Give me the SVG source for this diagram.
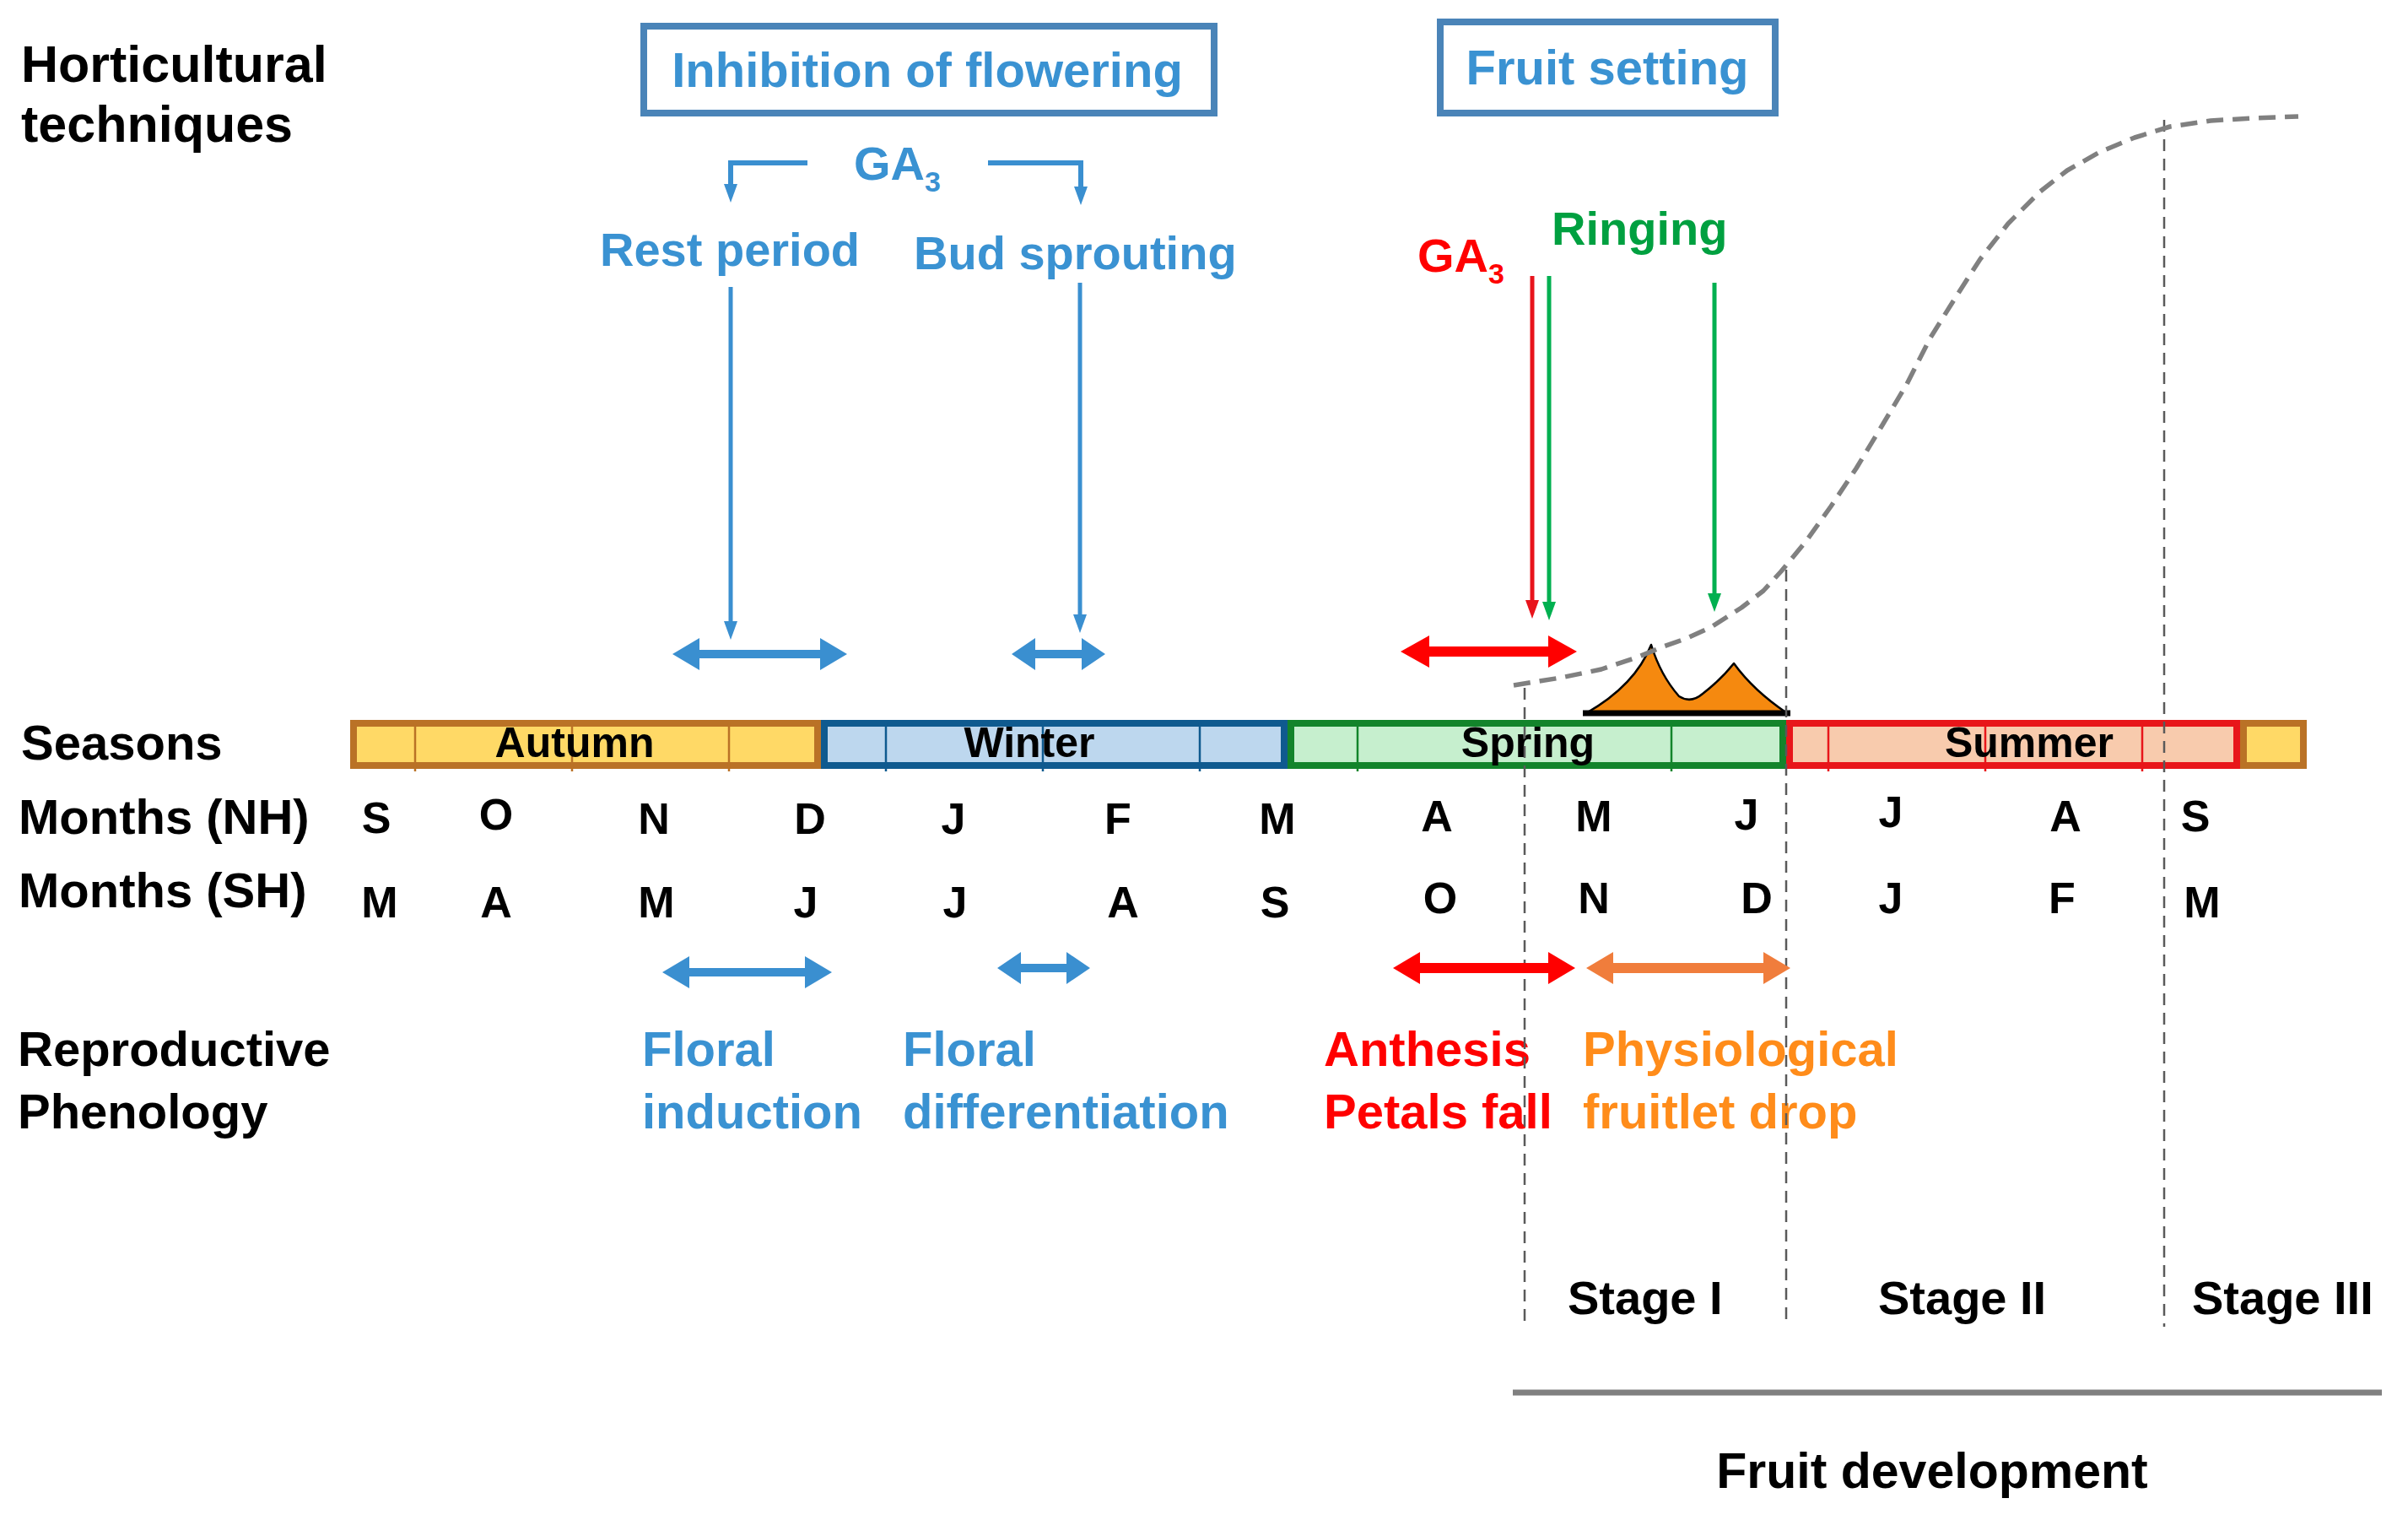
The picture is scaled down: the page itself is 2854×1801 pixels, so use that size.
<svg xmlns="http://www.w3.org/2000/svg" width="2854" height="1801" viewBox="0 0 2854 1801">
<style>
text{font-family:"Liberation Sans",Arial,sans-serif;font-weight:bold}
.lbl{font-size:58px;fill:#000}
.blue{fill:#3A92D2}
.red{fill:#FF0000}
.green{fill:#00A040}
.orange{fill:#FF8C1A}
.mo{font-size:52px;fill:#000;text-anchor:middle}
.season{font-size:50px;fill:#000;text-anchor:middle}
.stage{font-size:56px;fill:#000}
.vdash{stroke:#5A5A5A;stroke-width:2.5;stroke-dasharray:14 9;fill:none}
.tick{stroke-width:2.5}
</style>
<defs>
<marker id="hb" viewBox="0 0 22 16" markerWidth="22" markerHeight="16" refX="4" refY="8" orient="auto" markerUnits="userSpaceOnUse"><path d="M0,0 L22,8 L0,16 Z" fill="#3A8FD0"/></marker>
<marker id="hr" viewBox="0 0 22 16" markerWidth="22" markerHeight="16" refX="4" refY="8" orient="auto" markerUnits="userSpaceOnUse"><path d="M0,0 L22,8 L0,16 Z" fill="#E8141C"/></marker>
<marker id="hg" viewBox="0 0 22 16" markerWidth="22" markerHeight="16" refX="4" refY="8" orient="auto" markerUnits="userSpaceOnUse"><path d="M0,0 L22,8 L0,16 Z" fill="#00B050"/></marker>
</defs>
<rect width="2854" height="1801" fill="#fff"/>

<g id="row-labels">
<text class="lbl" x="25" y="97" style="font-size:61px">Horticultural</text>
<text class="lbl" x="25" y="168" style="font-size:61px">techniques</text>
<text class="lbl" x="25" y="900">Seasons</text>
<text class="lbl" x="22" y="988">Months (NH)</text>
<text class="lbl" x="22" y="1075">Months (SH)</text>
<text class="lbl" x="21" y="1263">Reproductive</text>
<text class="lbl" x="21" y="1337">Phenology</text>
</g>

<g id="box-inhibition">
<rect x="763" y="31" width="676" height="103" fill="#fff" stroke="#4A84B8" stroke-width="8"/>
<text class="blue" x="1099" y="103" font-size="58" text-anchor="middle">Inhibition of flowering</text>
</g>
<g id="box-fruit-setting">
<rect x="1707" y="26" width="397" height="108" fill="#fff" stroke="#4A84B8" stroke-width="8"/>
<text class="blue" x="1905" y="100" font-size="58" text-anchor="middle">Fruit setting</text>
</g>

<g id="ga3-blue"><text class="blue" x="1012" y="213" font-size="56">GA<tspan font-size="34" dy="14">3</tspan></text></g>
<g id="rest-period"><text class="blue" x="711" y="315" font-size="56">Rest period</text></g>
<g id="bud-sprouting"><text class="blue" x="1083" y="319" font-size="56">Bud sprouting</text></g>
<g id="ga3-red"><text class="red" x="1680" y="322" font-size="56">GA<tspan font-size="34" dy="14">3</tspan></text></g>
<g id="ringing"><text class="green" x="1839" y="290" font-size="56">Ringing</text></g>

<g id="season-band">
<rect x="419" y="857" width="550" height="50" fill="#FFD966" stroke="#BA7226" stroke-width="8"/>
<rect x="977" y="857" width="545" height="50" fill="#BDD7EE" stroke="#0F5A8F" stroke-width="8"/>
<rect x="1530" y="857" width="583" height="50" fill="#C6EFCE" stroke="#13842B" stroke-width="8"/>
<rect x="2121" y="857" width="530" height="50" fill="#F8CBAD" stroke="#E8161A" stroke-width="8"/>
<rect x="2659" y="857" width="71" height="50" fill="#FFD966" stroke="#BA7226" stroke-width="8"/>
<g class="tick">
<line x1="492" y1="857" x2="492" y2="914" stroke="#BA7226"/>
<line x1="678" y1="857" x2="678" y2="914" stroke="#BA7226"/>
<line x1="864" y1="857" x2="864" y2="914" stroke="#BA7226"/>
<line x1="1050" y1="857" x2="1050" y2="914" stroke="#0F5A8F"/>
<line x1="1236" y1="857" x2="1236" y2="914" stroke="#0F5A8F"/>
<line x1="1422" y1="857" x2="1422" y2="914" stroke="#0F5A8F"/>
<line x1="1609" y1="857" x2="1609" y2="914" stroke="#13842B"/>
<line x1="1981" y1="857" x2="1981" y2="914" stroke="#13842B"/>
<line x1="2167" y1="857" x2="2167" y2="914" stroke="#E8161A"/>
<line x1="2353" y1="857" x2="2353" y2="914" stroke="#E8161A"/>
<line x1="2539" y1="857" x2="2539" y2="914" stroke="#E8161A"/>
</g>
<text class="season" x="681" y="897">Autumn</text>
<text class="season" x="1220" y="897">Winter</text>
<text class="season" x="1811" y="897">Spring</text>
<text class="season" x="2405" y="897">Summer</text>
</g>

<g id="months-nh">
<text class="mo" x="446" y="987">S</text>
<text class="mo" x="588" y="983">O</text>
<text class="mo" x="775" y="988">N</text>
<text class="mo" x="960" y="988">D</text>
<text class="mo" x="1130" y="988">J</text>
<text class="mo" x="1325" y="988">F</text>
<text class="mo" x="1514" y="988">M</text>
<text class="mo" x="1703" y="985">A</text>
<text class="mo" x="1889" y="985">M</text>
<text class="mo" x="2070" y="983">J</text>
<text class="mo" x="2241" y="980">J</text>
<text class="mo" x="2448" y="985">A</text>
<text class="mo" x="2602" y="985">S</text>
</g>
<g id="months-sh">
<text class="mo" x="450" y="1087">M</text>
<text class="mo" x="588" y="1087">A</text>
<text class="mo" x="778" y="1087">M</text>
<text class="mo" x="955" y="1087">J</text>
<text class="mo" x="1132" y="1087">J</text>
<text class="mo" x="1331" y="1087">A</text>
<text class="mo" x="1511" y="1087">S</text>
<text class="mo" x="1707" y="1082">O</text>
<text class="mo" x="1889" y="1082">N</text>
<text class="mo" x="2082" y="1082">D</text>
<text class="mo" x="2241" y="1082">J</text>
<text class="mo" x="2444" y="1082">F</text>
<text class="mo" x="2610" y="1087">M</text>
</g>

<g id="floral-induction"><text class="blue" x="761" y="1263" font-size="58">Floral</text><text class="blue" x="761" y="1337" font-size="58">induction</text></g>
<g id="floral-differentiation"><text class="blue" x="1070" y="1263" font-size="58">Floral</text><text class="blue" x="1070" y="1337" font-size="58">differentiation</text></g>
<g id="anthesis"><text class="red" x="1569" y="1263" font-size="58">Anthesis</text><text class="red" x="1569" y="1337" font-size="58">Petals fall</text></g>
<g id="fruitlet-drop"><text class="orange" x="1876" y="1263" font-size="58">Physiological</text><text class="orange" x="1876" y="1337" font-size="58">fruitlet drop</text></g>

<g id="stages">
<text class="stage" x="1858" y="1557">Stage I</text>
<text class="stage" x="2226" y="1557">Stage II</text>
<text class="stage" x="2598" y="1557">Stage III</text>
</g>
<g id="fruit-development">
<line x1="1793" y1="1650" x2="2823" y2="1650" stroke="#808080" stroke-width="7"/>
<text class="lbl" x="2290" y="1763" text-anchor="middle" style="font-size:59px">Fruit development</text>
</g>

<g id="fruit-drop-curve">
<path d="M1880,845 Q1938,812 1957,764 Q1968,800 1990,825 Q2004,834 2018,822 Q2040,805 2055,786 Q2078,818 2118,845 Z" fill="#F5890F" stroke="#000" stroke-width="2.5" stroke-linejoin="round"/>
<line x1="1876" y1="845" x2="2122" y2="845" stroke="#000" stroke-width="7"/>
</g>

<g id="connectors">
<line class="vdash" x1="1807" y1="815" x2="1807" y2="1572"/>
<line class="vdash" x1="2117" y1="675" x2="2117" y2="1572"/>
<line class="vdash" x1="2565" y1="142" x2="2565" y2="1572"/>
<polyline fill="none" stroke="#808080" stroke-width="5.5" stroke-dasharray="20 11" stroke-linejoin="round" points="1794,812 1850,803 1898,793 1940,779 1969,767 2000,756 2028,743 2064,720 2090,700 2111,677 2140,642 2170,600 2200,555 2229,507 2260,455 2288,400 2318,352 2347,307 2380,265 2418,227 2450,202 2489,180 2530,163 2572,150 2620,143 2670,140 2724,138"/>
<path d="M957,193 H866 V222" fill="none" stroke="#3A8FD0" stroke-width="6" marker-end="url(#hb)"/>
<path d="M1171,193 H1281 V225" fill="none" stroke="#3A8FD0" stroke-width="6" marker-end="url(#hb)"/>
<line x1="866" y1="340" x2="866" y2="740" stroke="#3A8FD0" stroke-width="5" marker-end="url(#hb)"/>
<line x1="1280" y1="335" x2="1280" y2="732" stroke="#3A8FD0" stroke-width="5" marker-end="url(#hb)"/>
<line x1="1816" y1="327" x2="1816" y2="715" stroke="#E8141C" stroke-width="5" marker-end="url(#hr)"/>
<line x1="1836" y1="327" x2="1836" y2="717" stroke="#00B050" stroke-width="5" marker-end="url(#hg)"/>
<line x1="2032" y1="335" x2="2032" y2="707" stroke="#00B050" stroke-width="5" marker-end="url(#hg)"/>
<polygon fill="#3A8FD0" points="797,775 829,756 829,770 972,770 972,756 1004,775 972,794 972,780 829,780 829,794"/>
<polygon fill="#3A8FD0" points="1199,775 1227,756 1227,770 1282,770 1282,756 1310,775 1282,794 1282,780 1227,780 1227,794"/>
<polygon fill="#FF0000" points="1660,772 1694,753 1694,766 1835,766 1835,753 1869,772 1835,791 1835,778 1694,778 1694,791"/>
<polygon fill="#3A8FD0" points="785,1152 817,1133 817,1147 954,1147 954,1133 986,1152 954,1171 954,1157 817,1157 817,1171"/>
<polygon fill="#3A8FD0" points="1182,1147 1210,1128 1210,1142 1264,1142 1264,1128 1292,1147 1264,1166 1264,1152 1210,1152 1210,1166"/>
<polygon fill="#FF0000" points="1651,1147 1683,1128 1683,1141 1835,1141 1835,1128 1867,1147 1835,1166 1835,1153 1683,1153 1683,1166"/>
<polygon fill="#F07D3C" points="1880,1147 1912,1128 1912,1141 2090,1141 2090,1128 2122,1147 2090,1166 2090,1153 1912,1153 1912,1166"/>
</g>
</svg>
